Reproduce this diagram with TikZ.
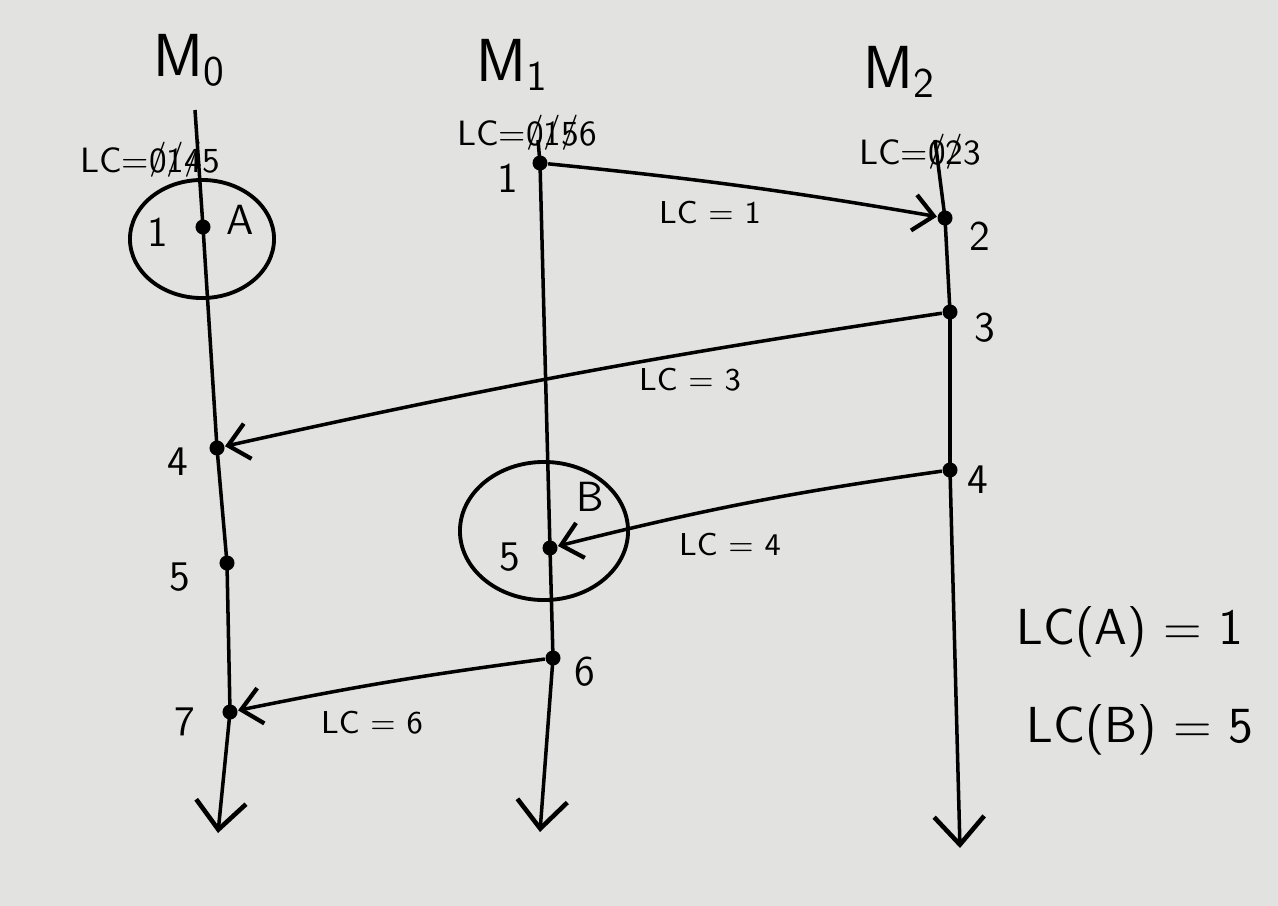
\documentclass[tikz,border=0pt]{standalone}
\usetikzlibrary{arrows.meta}
\definecolor{paper}{RGB}{226,226,224}
\newcommand\strk[1]{\setbox0\hbox{#1}\rlap{#1}\hbox to\wd0{\hss\raisebox{0.25ex}{/}\hss}}
\tikzset{ev/.style={circle,fill=black,inner sep=0pt,minimum size=0.15cm},
         timeline/.style={line width=1pt,-{Straight Barb[length=2.8mm,width=5mm,line width=1.3pt]}},
         msg/.style={line width=1pt,-{Straight Barb[length=2mm,width=3.6mm,line width=1.2pt]}},
         ring/.style={line width=1.1pt},
         title/.style={font=\sffamily\LARGE},
         clock/.style={font=\sffamily},
         evlabel/.style={font=\sffamily\large},
         msglabel/.style={font=\sffamily\small},
         result/.style={font=\sffamily\Large}}

\begin{document}
\begin{tikzpicture}[x=0.01cm,y=-0.01cm]
            % paper
            \fill[paper] (0,0) rectangle (1278,906);
            \useasboundingbox (0,0) rectangle (1278,906);

            % processes
            \node[title] (m0) at (190,60) {M\textsubscript{0}};
            \node[title] (m1) at (513,65) {M\textsubscript{1}};
            \node[title] (m2) at (900,72) {M\textsubscript{2}};
            \node[clock] (lc0) at (150,160) {LC=\strk{0}\strk{1}\strk{4}5};
            \node[clock] (lc1) at (527,133) {LC=\strk{0}\strk{1}\strk{5}6};
            \node[clock] (lc2) at (920,152) {LC=\strk{0}\strk{2}3};

            % events M0
            \coordinate (m0top) at (195,110);
            \node[ev] (a1) at (203,227) {};
            \node[ev] (a4) at (217,448) {};
            \node[ev] (a5) at (227,563) {};
            \node[ev] (a7) at (230,712) {};
            \coordinate (m0end) at (218,833);
            % events M1
            \coordinate (m1top) at (538,140);
            \node[ev] (b1) at (540,163) {};
            \node[ev] (b5) at (550,548) {};
            \node[ev] (b6) at (553,658) {};
            \coordinate (m1end) at (540,832);
            % events M2
            \coordinate (m2top) at (935,140);
            \node[ev] (c2) at (945,218) {};
            \node[ev] (c3) at (950,312) {};
            \node[ev] (c4) at (950,470) {};
            \coordinate (m2end) at (960,848);

            % time lines
            \draw[timeline] (m0top) -- (a1.center) -- (a4.center) -- (a5.center) -- (a7.center) -- (m0end);
            \draw[timeline] (m1top) -- (b1.center) -- (b5.center) -- (b6.center) -- (m1end);
            \draw[timeline] (m2top) -- (c2.center) -- (c3.center) -- (c4.center) -- (m2end);

            % messages
            \draw[msg] (b1) to[bend left=2] (c2);
            \draw[msg] (c3) to[bend right=2] (a4);
            \draw[msg] (c4) to[bend right=3] (b5);
            \draw[msg] (b6) to[bend right=2] (a7);
            \node[msglabel] (l1) at (710,213) {LC = 1};
            \node[msglabel] (l3) at (690,380) {LC = 3};
            \node[msglabel] (l4) at (730,545) {LC = 4};
            \node[msglabel] (l6) at (372,723) {LC = 6};

            % event numbers
            \node[evlabel] (n1a) at (158,232) {1};
            \node[evlabel] (n4a) at (178,462) {4};
            \node[evlabel] (n5a) at (180,577) {5};
            \node[evlabel] (n7a) at (185,722) {7};
            \node[evlabel] (n1b) at (508,178) {1};
            \node[evlabel] (n5b) at (510,557) {5};
            \node[evlabel] (n6b) at (585,672) {6};
            \node[evlabel] (n2c) at (980,236) {2};
            \node[evlabel] (n3c) at (985,328) {3};
            \node[evlabel] (n4c) at (978,480) {4};

            % marked events
            \draw[ring] (202,239) ellipse [x radius=0.72cm, y radius=0.59cm];
            \draw[ring] (544,531) ellipse [x radius=0.84cm, y radius=0.69cm];
            \node[evlabel] (nA) at (240,220) {A};
            \node[evlabel] (nB) at (590,497) {B};

            % results
            \node[result] (ra) at (1130,632) {LC(A) = 1};
            \node[result] (rb) at (1140,730) {LC(B) = 5};
\end{tikzpicture}
\end{document}
